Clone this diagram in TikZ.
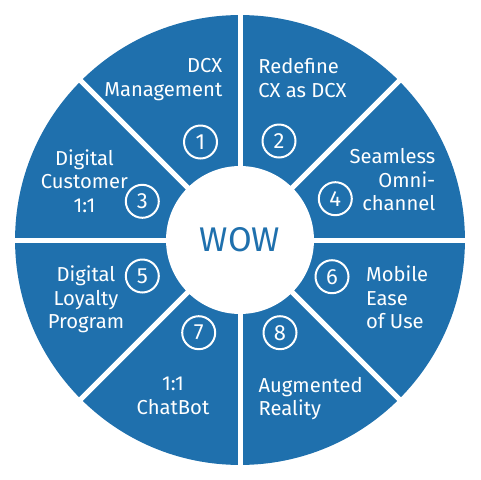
\documentclass[tikz,border=0pt]{standalone}
\usepackage{fontspec}
\setmainfont{Fira Sans}
\definecolor{wowblue}{RGB}{31,112,173}
\tikzset{
  gap/.style  = {draw=white, line width=0.1cm},
  txt/.style  = {text=white, inner sep=0pt,
                 font=\fontsize{11.5}{13.4}\selectfont},
  num/.style  = {draw=white, circle, line width=0.04cm, minimum size=0.66cm,
                 inner sep=0pt, text=white, font=\fontsize{12.5}{14}\selectfont},
  hubstyle/.style = {circle, fill=white, minimum size=2.96cm, inner sep=0pt,
                 text=wowblue, font=\fontsize{19.5}{22}\selectfont},
}
\begin{document}
\begin{tikzpicture}[x=0.02cm, y=-0.02cm]
  \useasboundingbox (0,0) rectangle (480,480);

  % wheel
  \coordinate (c) at (240,240);
  \fill[wowblue] (c) circle[radius=4.5cm];
  \foreach \a in {0,45,90,135}
    \draw[gap] (c) ++(\a:4.7cm) -- ++(\a+180:9.4cm);
  \node[hubstyle] (hub) at (c) {WOW};

  % sector texts
  \node[txt, anchor=north east, align=right]  (t1) at (222.7,58)  {DCX\\Management};
  \node[txt, anchor=north west, align=left]   (t2) at (258,58)    {Redefine\\CX as DCX};
  \node[txt, anchor=north, align=center]      (t3) at (84.5,149)  {Digital\\Customer\\1:1};
  \node[txt, anchor=north east, align=right]  (t4) at (435.7,148) {Seamless\\Omni-\\channel};
  \node[txt, anchor=north, align=center]      (t5) at (86,265.7)  {Digital\\Loyalty\\Program};
  \node[txt, anchor=north west, align=left]   (t6) at (365.7,265.7) {Mobile\\Ease\\of Use};
  \node[txt, anchor=north, align=center]      (t7) at (173,376.7) {1:1\\ChatBot};
  \node[txt, anchor=north west, align=left]   (t8) at (258.3,376.7) {Augmented\\Reality};

  % numbers
  \foreach \n/\x/\y in {1/200.5/142, 2/279/141, 3/142.3/201.3, 4/335.3/198.7,
                        5/142.3/276, 6/332/276.7, 7/198.7/332.7, 8/280/332.7}
    \node[num] (n\n) at (\x,\y) {\n};
\end{tikzpicture}
\end{document}
